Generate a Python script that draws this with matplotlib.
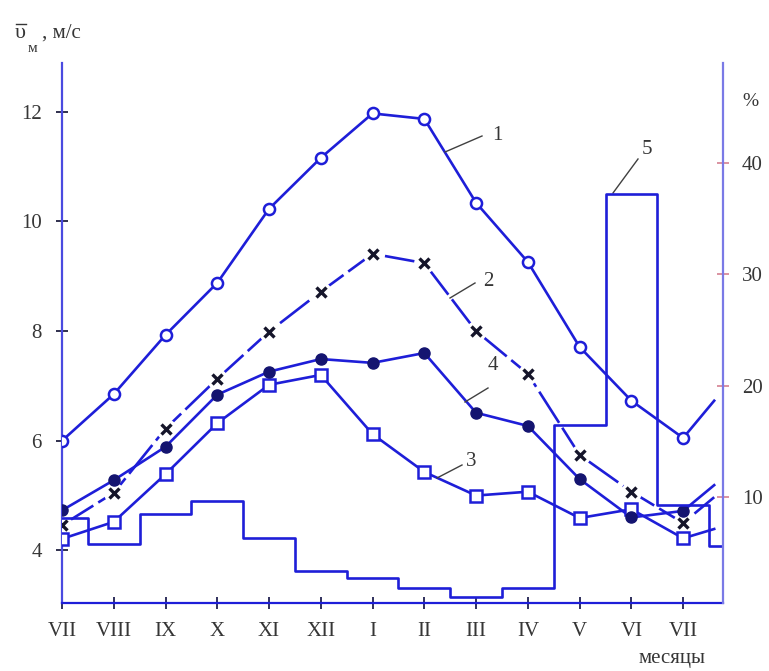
import matplotlib
matplotlib.use('Agg')
import matplotlib.pyplot as plt
from matplotlib.lines import Line2D
import numpy as np

# ---- data ----
months = ['VII', 'VIII', 'IX', 'X', 'XI', 'XII', 'I', 'II', 'III', 'IV', 'V', 'VI', 'VII']
s1 = [6.00, 6.85, 7.93, 8.88, 10.23, 11.16, 11.97, 11.87, 10.34, 9.26, 7.71, 6.73, 6.05]
s2 = [4.46, 5.05, 6.22, 7.13, 7.99, 8.72, 9.41, 9.24, 8.00, 7.22, 5.74, 5.07, 4.50]
s3 = [4.21, 4.52, 5.39, 6.32, 7.02, 7.20, 6.12, 5.43, 5.00, 5.07, 4.59, 4.75, 4.22]
s4 = [4.73, 5.28, 5.89, 6.84, 7.26, 7.49, 7.42, 7.60, 6.51, 6.27, 5.30, 4.60, 4.72]
# line continuation after the last VII (towards next VIII)
tails = [6.73, 4.97, 4.39, 5.19]   # series 1, 2, 3, 4
tail_pos = 12.6
# series 5: monthly frequency, %, (VII ... VII, VIII)
s5 = [8.1, 5.75, 8.45, 9.6, 6.3, 3.4, 2.7, 1.8, 1.0, 1.8, 16.5, 37.2, 9.25, 5.6]

# ---- style ----
plt.rcParams['font.family'] = ['Liberation Serif', 'DejaVu Serif']
BLUE = '#1e1ed8'
SPINE = '#4a4ae0'
TXT = '#363636'
LW = 1.9

fig = plt.figure(figsize=(7.69, 6.71), dpi=100)
ax = fig.add_axes([62/769, 68/671, (723-62)/769, (603-63)/671])
ax.set_xlim(0, 12.77)
ax.set_ylim(3.04, 12.89)
ax2 = ax.twinx()
ax2.set_ylim(0.48, 49.0)

x = np.arange(len(months))

# series 5 (step, right axis)
x5 = np.arange(len(s5))
ax2.step(x5, s5, where='mid', color=BLUE, lw=LW, zorder=2)

xt = np.append(x, tail_pos)
# series 1
ax.plot(xt, s1 + [tails[0]], color=BLUE, lw=LW, zorder=3)
ax.plot(x, s1, ls='none', marker='o', ms=8, mfc='white', mec=BLUE, mew=1.8, zorder=5)
# series 2 (long-dash line with breaks around markers)
ax.plot(xt, s2 + [tails[1]], color=BLUE, lw=LW, ls=(0, (14, 2.2)), zorder=2.5)
ax.plot(x, s2, ls='none', marker='o', ms=15, mfc='white', mec='none', zorder=2.6)
ax.plot(x, s2, ls='none', marker='x', ms=7.5, mec='#15152a', mew=2.4, zorder=6)
# series 3
ax.plot(xt, s3 + [tails[2]], color=BLUE, lw=LW, zorder=3)
ax.plot(x, s3, ls='none', marker='s', ms=8, mfc='white', mec=BLUE, mew=1.8, zorder=5)
# series 4
ax.plot(xt, s4 + [tails[3]], color=BLUE, lw=LW, zorder=3)
ax.plot(x, s4, ls='none', marker='o', ms=8, mfc='#141470', mec='#141470', mew=1, zorder=5)

# axes styling
for a in (ax, ax2):
    a.spines['top'].set_visible(False)
    a.patch.set_visible(False)
ax2.spines['left'].set_visible(False)
ax2.spines['bottom'].set_visible(False)
ax.spines['right'].set_visible(False)
ax.spines['left'].set_color(SPINE)
ax.spines['bottom'].set_color(BLUE)
ax2.spines['right'].set_color('#7a7ae6')
for s in ('left', 'bottom'):
    ax.spines[s].set_linewidth(1.6)
ax2.spines['right'].set_linewidth(1.6)

ax.set_xticks(x)
ax.set_xticklabels(months)
ax.set_yticks([4, 6, 8, 10, 12])
ax.tick_params(axis='x', direction='inout', length=9, width=1.3, color='#202050',
               labelsize=15, labelcolor=TXT, pad=9)
ax.tick_params(axis='y', direction='inout', length=9, width=1.3, color='#202040',
               labelsize=15, labelcolor=TXT, pad=10)
ax2.set_yticks([10, 20, 30, 40])
ax2.tick_params(axis='y', direction='inout', length=9, width=1.3, color='#d88a9a',
                labelsize=15, labelcolor=TXT, pad=9)

# series labels with leader lines
def px(xp, yp):
    return ax.transData.inverted().transform(fig.transFigure.transform((xp/769, 1 - yp/671)))

def lab_px(t, p0, p1, pt):
    a = px(*p0); b = px(*p1); c = px(*pt)
    ax.plot([a[0], b[0]], [a[1], b[1]], color='#404040', lw=1.0, zorder=4)
    ax.text(c[0], c[1], t, fontsize=15, color=TXT, ha='left', va='center', zorder=6)

lab_px('1', (445, 152), (482, 136), (492, 136))
lab_px('2', (450, 298), (475, 283), (483, 281))
lab_px('4', (465, 402), (488, 388), (488, 366))
lab_px('3', (437, 478), (462, 465), (466, 461))
lab_px('5', (613, 193), (638, 159), (642, 149))

# axis titles
fig.text(15/769, 1 - 34/671, 'υ', fontsize=16, color=TXT, ha='left', va='center')
fig.add_artist(Line2D([16/769, 26/769], [1 - 24/671, 1 - 24/671], color=TXT, lw=1.0,
                      transform=fig.transFigure))
fig.text(28/769, 1 - 49/671, 'м', fontsize=11, color=TXT, ha='left', va='center')
fig.text(42/769, 1 - 33/671, ', м/с', fontsize=15, color=TXT, ha='left', va='center')
fig.text(750/769, 1 - 102/671, '%', fontsize=14, color=TXT, ha='center', va='center')
fig.text(672/769, 1 - 658/671, 'месяцы', fontsize=15, color=TXT, ha='center', va='center')

fig.savefig('out.png', dpi=100)
